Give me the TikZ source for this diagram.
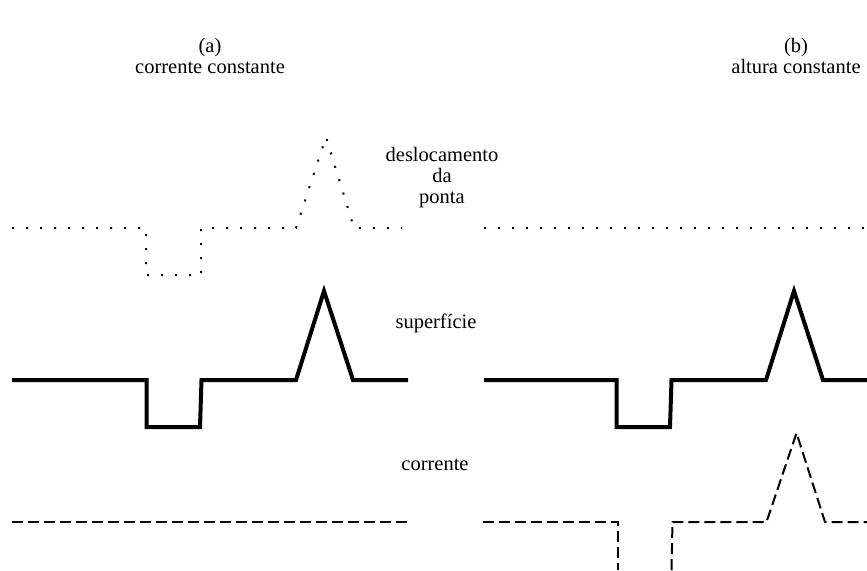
\documentclass[tikz,border=0pt]{standalone}
\usepackage{fontspec}
\setmainfont{Liberation Serif}
\begin{document}
\begin{tikzpicture}[x=1pt,y=-1pt,
  lbl/.style={font=\fontsize{20.5}{21}\selectfont, align=center, inner sep=0pt, anchor=base},
  tipline/.style={line width=2pt, dash pattern=on 2pt off 12pt, line cap=butt},
  surfline/.style={line width=4pt, line join=miter, miter limit=10},
  curline/.style={line width=2pt, dash pattern=on 11pt off 5pt}]
\useasboundingbox (0,0) rectangle (867,570);
% labels
\node[lbl] (la) at (210,73) {(a)\\corrente constante};
\node[lbl] (lb) at (796,73) {(b)\\altura constante};
\node[lbl] (ltip) at (442,203) {deslocamento\\da\\ponta};
\node[lbl] (lsurf) at (436,328) {superfície};
\node[lbl] (lcur) at (435,470) {corrente};
% tip displacement
\draw[tipline] (12,228) -- (146,228) -- (146,275) -- (201,275) -- (201,228) -- (296,228) -- (326,137) -- (354,228) -- (402,228);
\draw[tipline] (484,228) -- (867,228);
% surface
\draw[surfline] (12,380) -- (146.5,380) -- (146.5,427) -- (200,427) -- (201.5,380) -- (296,380) -- (324,291) -- (353,380) -- (408,380);
\draw[surfline] (484,380) -- (616.5,380) -- (616.5,427) -- (670,427) -- (671.5,380) -- (766,380) -- (794,291) -- (823,380) -- (867,380);
% current
\draw[curline] (12,522) -- (408,522);
\draw[curline] (483,522) -- (618,522) -- (618,570);
\draw[curline] (671.5,570) -- (672.5,522) -- (766.5,522) -- (796.5,433) -- (825,522) -- (867,522);
\end{tikzpicture}
\end{document}
